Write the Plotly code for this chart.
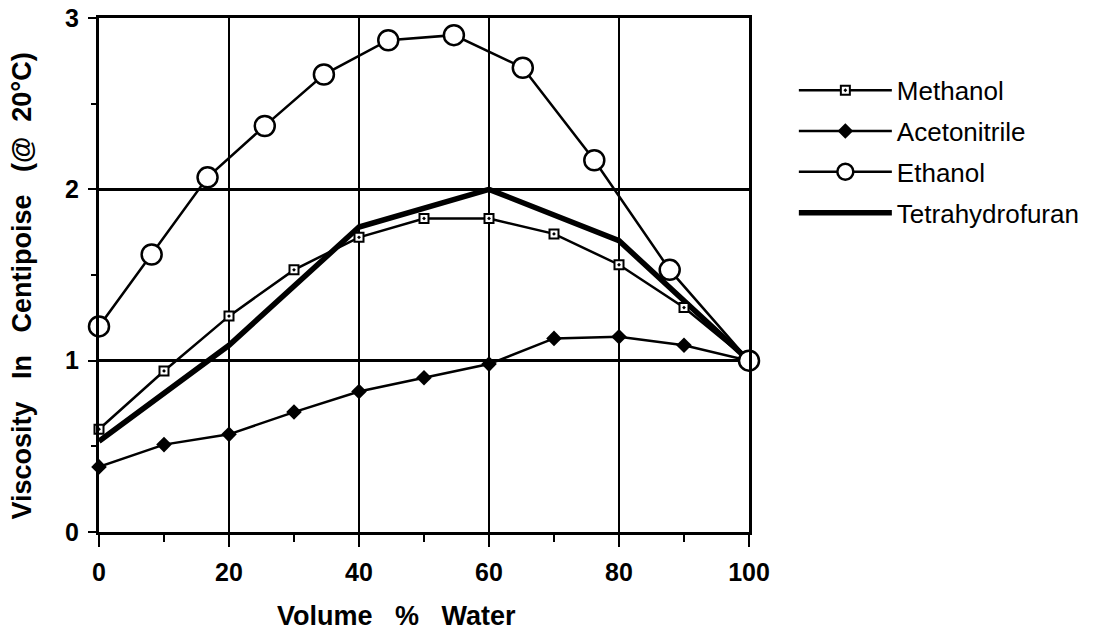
import plotly.graph_objects as go

# ---- data ----
water_pct = [0, 10, 20, 30, 40, 50, 60, 70, 80, 90, 100]
methanol = [0.60, 0.94, 1.26, 1.53, 1.72, 1.83, 1.83, 1.74, 1.56, 1.31, 1.00]
acetonitrile = [0.38, 0.51, 0.57, 0.70, 0.82, 0.90, 0.98, 1.13, 1.14, 1.09, 1.00]

ethanol_water_pct = [0, 8.1, 16.7, 25.5, 34.6, 44.5, 54.6, 65.2, 76.2, 87.8, 100]
ethanol = [1.20, 1.62, 2.07, 2.37, 2.67, 2.87, 2.90, 2.71, 2.17, 1.53, 1.00]

thf_water_pct = [0, 20, 40, 60, 80, 100]
thf = [0.53, 1.09, 1.78, 2.00, 1.70, 1.00]

x_ticks = [0, 20, 40, 60, 80, 100]
y_ticks = [0, 1, 2, 3]

x_title = "Volume\u00a0\u00a0\u00a0%\u00a0\u00a0\u00a0Water"
y_title = ("Viscosity\u00a0\u00a0\u00a0In\u00a0\u00a0\u00a0Centipoise"
           "\u00a0\u00a0\u00a0(@\u00a0\u00a020°C)")

FONT = "Liberation Sans, Arial, Helvetica, sans-serif"

fig = go.Figure()

fig.add_trace(go.Scatter(
    x=thf_water_pct, y=thf, name="Tetrahydrofuran", mode="lines",
    line=dict(color="black", width=5.5), legendrank=4,
    legendgroup="thf", cliponaxis=False))

fig.add_trace(go.Scatter(
    x=water_pct, y=methanol, name="Methanol", mode="lines+markers",
    line=dict(color="black", width=2.5),
    marker=dict(symbol="square-dot", size=9, color="white",
                line=dict(color="black", width=2)),
    legendrank=1, legendgroup="meoh", cliponaxis=False))

fig.add_trace(go.Scatter(
    x=water_pct, y=acetonitrile, name="Acetonitrile", mode="lines+markers",
    line=dict(color="black", width=2.5),
    marker=dict(symbol="diamond", size=12, color="black"),
    legendrank=2, legendgroup="acn", cliponaxis=False))

fig.add_trace(go.Scatter(
    x=ethanol_water_pct, y=ethanol, name="Ethanol", mode="lines+markers",
    line=dict(color="black", width=2.5),
    marker=dict(symbol="circle", size=20, color="white",
                line=dict(color="black", width=2.5)),
    legendrank=3, legendgroup="etoh", cliponaxis=False))

# the page body adds an 8px margin, so the figure is 8px smaller each way
fig.update_layout(
    width=1087, height=623,
    paper_bgcolor="white", plot_bgcolor="white",
    margin=dict(l=91, r=343, t=10, b=99),
    font=dict(family=FONT, color="black", size=26),
    legend=dict(
        x=1.069, y=0.905, xanchor="left", yanchor="top",
        font=dict(family=FONT, size=26, color="black"),
        bgcolor="rgba(0,0,0,0)", itemwidth=93, tracegroupgap=4,
        traceorder="grouped",
    ),
    xaxis=dict(
        range=[0, 100], tickvals=x_ticks, ticks="outside", ticklen=12,
        tickwidth=2, tickcolor="black", automargin=False,
        ticklabeloverflow="allow",
        minor=dict(dtick=10, ticks="outside", ticklen=7, tickwidth=2,
                   tickcolor="black", showgrid=False),
        showgrid=True, gridcolor="black", gridwidth=1.5,
        showline=True, linecolor="black", linewidth=3, mirror=True,
        zeroline=False, ticklabelstandoff=4,
        tickfont=dict(family=FONT, size=25, color="black", weight="bold"),
    ),
    yaxis=dict(
        range=[0, 3], tickvals=y_ticks, ticks="outside", ticklen=8,
        tickwidth=2, tickcolor="black", automargin=False,
        ticklabeloverflow="allow",
        minor=dict(dtick=0.5, ticks="outside", ticklen=5, tickwidth=2,
                   tickcolor="black", showgrid=False),
        showgrid=True, gridcolor="black", gridwidth=2.5,
        showline=True, linecolor="black", linewidth=3, mirror=True,
        zeroline=False, ticklabelstandoff=4,
        tickfont=dict(family=FONT, size=25, color="black", weight="bold"),
    ),
    annotations=[
        dict(text=x_title, xref="paper", yref="paper", x=0.457, y=-0.163,
             xanchor="center", yanchor="middle", showarrow=False,
             font=dict(family=FONT, size=27, color="black", weight="bold")),
        dict(text=y_title, xref="paper", yref="paper", x=-0.118, y=0.478,
             xanchor="center", yanchor="middle", showarrow=False, textangle=-90,
             font=dict(family=FONT, size=27, color="black", weight="bold")),
    ],
)

fig.write_html("out.html")
